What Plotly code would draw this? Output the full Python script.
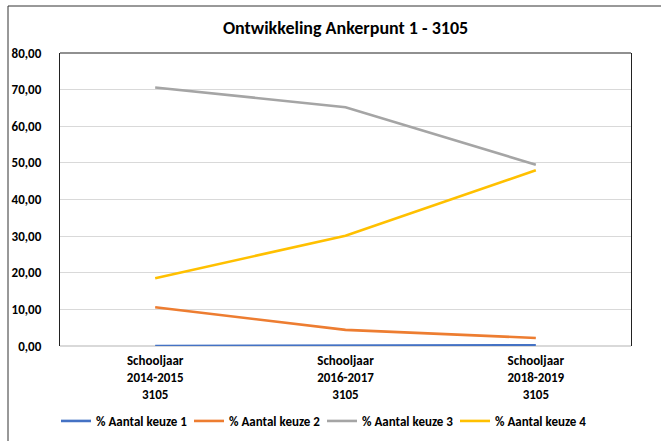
import plotly.graph_objects as go

categories = ["Schooljaar<br>2014-2015<br>3105", "Schooljaar<br>2016-2017<br>3105", "Schooljaar<br>2018-2019<br>3105"]
keuze1 = [0.0, 0.1, 0.2]
keuze2 = [10.6, 4.4, 2.2]
keuze3 = [70.6, 65.2, 49.5]
keuze4 = [18.5, 30.1, 48.0]
series_names = ["% Aantal keuze 1", "% Aantal keuze 2", "% Aantal keuze 3", "% Aantal keuze 4"]
colors = ["#4472C4", "#ED7D31", "#A5A5A5", "#FFC000"]
y_ticks = [0, 10, 20, 30, 40, 50, 60, 70, 80]

FONT = "Carlito, 'Liberation Sans Narrow', 'Liberation Sans', sans-serif"
fig = go.Figure()
for name, vals, col in zip(series_names, [keuze1, keuze2, keuze3, keuze4], colors):
    fig.add_trace(go.Scatter(x=categories, y=vals, name=name, mode="lines", cliponaxis=False,
                             line=dict(color=col, width=2.6)))

W, H = 661, 441
L, R, T, B = 60, 30, 53, 95
pw, ph = W - L - R, H - T - B

def px(x):
    return (x - L) / pw

def py(y):
    return (H - B - y) / ph

shapes = [
    dict(type="line", xref="paper", yref="paper", x0=0, x1=1, y0=1, y1=1, line=dict(color="#222222", width=1.2)),
    dict(type="line", xref="paper", yref="paper", x0=px(8), x1=px(8), y0=py(6), y1=py(441), line=dict(color="#333333", width=1)),
    dict(type="line", xref="paper", yref="paper", x0=px(8), x1=px(661), y0=py(6), y1=py(6), line=dict(color="#333333", width=1)),
]

tf = dict(size=13, family=FONT, color="black", weight="bold")
fig.update_layout(
    width=W, height=H,
    margin=dict(l=L, r=R, t=T, b=B, autoexpand=False),
    paper_bgcolor="white", plot_bgcolor="white",
    separators=",.",
    font=dict(family=FONT, color="black"),
    title=dict(text="Ontwikkeling Ankerpunt 1 - 3105", x=0.5, xref="paper", xanchor="center",
               y=1 - 28 / H, yref="container", yanchor="middle", automargin=False,
               font=dict(size=18, family=FONT, color="black", weight="bold")),
    xaxis=dict(type="category", showgrid=False, showline=False, ticks="", automargin=False,
               tickfont=tf, ticklabelstandoff=5, range=[-0.5, 2.5], layer="below traces"),
    yaxis=dict(range=[0, 80], tickvals=y_ticks, tickformat=".2f", showgrid=True, automargin=False,
               gridcolor="#D9D9D9", gridwidth=1, showline=True, linecolor="#222222", linewidth=1.2,
               mirror=True, zeroline=True, zerolinecolor="#D9D9D9", zerolinewidth=1.5, ticks="",
               tickfont=tf, ticklabelstandoff=15, layer="below traces"),
    legend=dict(orientation="h", xref="container", x=56 / W, xanchor="left",
                yref="container", y=1 - 421 / H, yanchor="middle",
                font=dict(size=13, family=FONT, color="black", weight="bold"),
                entrywidth=88, entrywidthmode="pixels", itemwidth=30, tracegroupgap=0),
    shapes=shapes,
    showlegend=True,
)
fig.write_html("out.html", config={"displayModeBar": False},
               post_script="document.body.style.margin='0px';document.body.style.padding='0px';")
